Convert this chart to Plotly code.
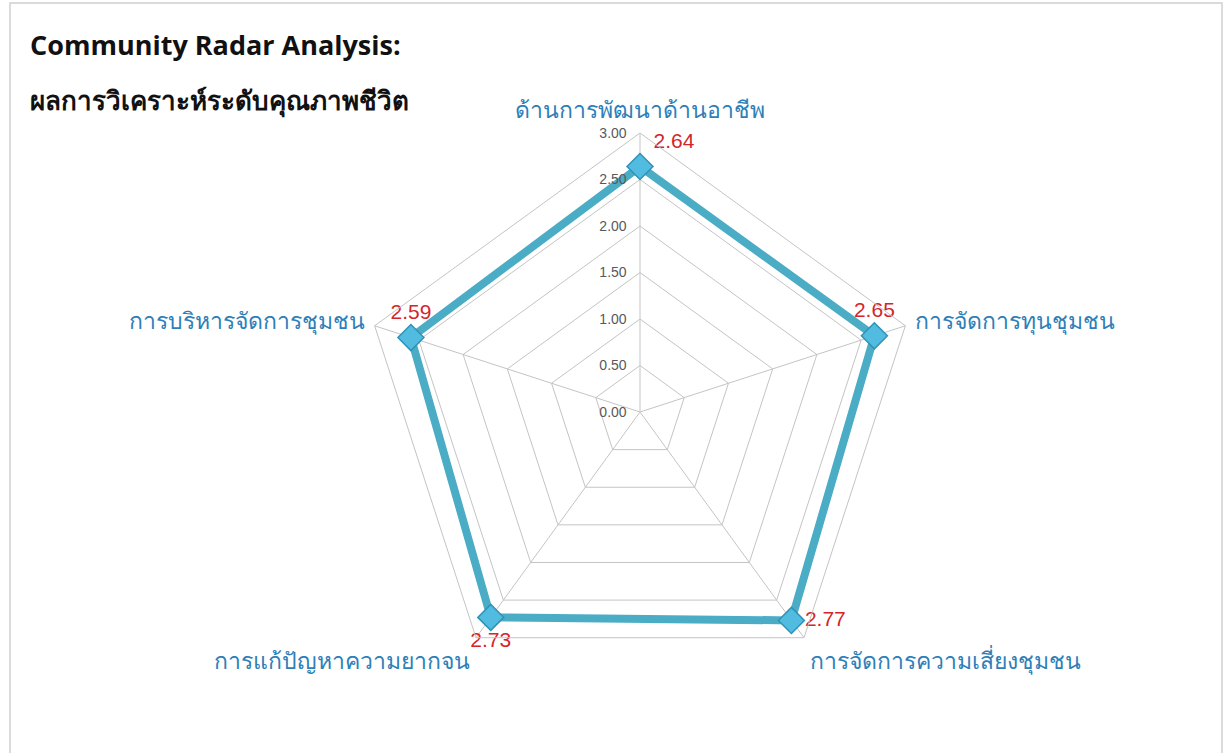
import plotly.graph_objects as go

categories = ["ด้านการพัฒนาด้านอาชีพ", "การจัดการทุนชุมชน", "การจัดการความเสี่ยงชุมชน",
              "การแก้ปัญหาความยากจน", "การบริหารจัดการชุมชน"]
values = [2.64, 2.65, 2.77, 2.73, 2.59]
value_labels = ["2.64", "2.65", "2.77", "2.73", "2.59"]
label_positions = ["top right", "top center", "middle right", "bottom center", "top center"]
radial_ticks = [0, 0.5, 1.0, 1.5, 2.0, 2.5, 3.0]

W, H = 1232, 753
cx, cy, R = 640, 412, 279

fig = go.Figure()
fig.add_trace(go.Scatterpolar(
    r=values + values[:1],
    theta=categories + categories[:1],
    mode="lines",
    line=dict(color="#4bacc6", width=8),
    hoverinfo="skip",
    showlegend=False,
))
fig.add_trace(go.Scatterpolar(
    r=values,
    theta=categories,
    mode="markers+text",
    marker=dict(symbol="diamond", size=20, color="#52bbe0",
                line=dict(color="#2f93b5", width=1.5)),
    text=value_labels,
    textposition=label_positions,
    textfont=dict(color="#d3262b", size=21, family="Liberation Sans, Arial"),
    showlegend=False,
))

fig.update_layout(
    width=W, height=H,
    paper_bgcolor="white",
    plot_bgcolor="white",
    margin=dict(l=0, r=0, t=0, b=0),
    font=dict(family="Noto Sans, Liberation Sans, sans-serif"),
    polar=dict(
        domain=dict(x=[(cx - R) / W, (cx + R) / W],
                    y=[(H - cy - R) / H, (H - cy + R) / H]),
        gridshape="linear",
        bgcolor="white",
        radialaxis=dict(
            range=[0, 3],
            tickvals=radial_ticks,
            tickformat=".2f",
            angle=90,
            side="counterclockwise",
            tickangle=90,
            showline=False,
            ticks="outside",
            ticklen=8,
            tickcolor="rgba(0,0,0,0)",
            gridcolor="#c4c4c4",
            gridwidth=1,
            tickfont=dict(size=14, color="#595959", family="Liberation Sans, Arial"),
        ),
        angularaxis=dict(
            rotation=90,
            direction="clockwise",
            gridcolor="#c4c4c4",
            linecolor="#c4c4c4",
            showline=True,
            ticks="outside",
            ticklen=5,
            tickcolor="rgba(0,0,0,0)",
            tickfont=dict(size=23, color="#2e7fb8"),
        ),
    ),
    shapes=[dict(type="rect", xref="paper", yref="paper",
                 x0=10 / W, x1=1222 / W, y0=-0.05, y1=1 - 3 / H,
                 line=dict(color="#d0d0d0", width=1.5), fillcolor="rgba(0,0,0,0)")],
    annotations=[
        dict(text="<b>Community Radar Analysis:</b>", xref="paper", yref="paper",
             x=28 / W, y=1 - 45 / H, xanchor="left", yanchor="middle", showarrow=False,
             font=dict(size=27, color="#111111", family="Open Sans, sans-serif")),
        dict(text="<b>ผลการวิเคราะห์ระดับคุณภาพชีวิต</b>", xref="paper", yref="paper",
             x=28 / W, y=1 - 100 / H, xanchor="left", yanchor="middle", showarrow=False,
             font=dict(size=26, color="#111111")),
    ],
)

fig.write_html("out.html", config={"displayModeBar": False},
               post_script="document.body.style.margin='0px';")
